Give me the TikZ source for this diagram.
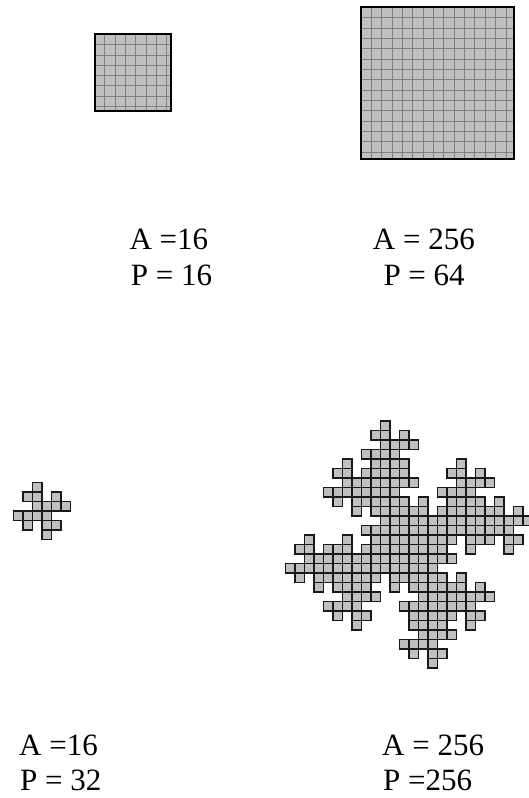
\documentclass[tikz,border=0pt]{standalone}
\usepackage{fontspec}
\setmainfont{Liberation Serif}
\definecolor{cellgray}{RGB}{192,192,192}
\definecolor{gridgray}{RGB}{128,128,128}
\begin{document}
\begin{tikzpicture}[x=1pt,y=-1pt,
  cellfill/.style={fill=cellgray,draw=none},
  cellline/.style={draw=black!90,line width=1.5pt},
  sqfill/.style={fill=cellgray,draw=none},
  sqborder/.style={draw=black,line width=2pt},
  gridln/.style={draw=gridgray,line width=0.8pt},
  lbl/.style={anchor=base west,inner sep=0pt,font=\fontsize{31}{37}\selectfont}]
\useasboundingbox (0,0) rectangle (528,798);
\def\shapelist{2/0,1/1,2/1,4/1,2/2,3/2,4/2,5/2,0/3,1/3,2/3,3/3,1/4,3/4,4/4,3/5}
% small square
\fill[sqfill] (94.5,34.3) rectangle (170.7,110.7);
\foreach \k in {1,...,7}{
  \draw[gridln] ({94.5+10.3*\k},34.3) -- ({94.5+10.3*\k},110.7);
  \draw[gridln] (94.5,{34.3+10.3*\k}) -- (170.7,{34.3+10.3*\k});
}
\draw[sqborder] (94.5,34.3) rectangle (170.7,110.7);
% big square
\fill[sqfill] (361,7.3) rectangle (513.7,158.7);
\foreach \k in {1,...,14}{
  \draw[gridln] ({361+10.35*\k},7.3) -- ({361+10.35*\k},158.7);
  \draw[gridln] (361,{7.3+10.35*\k}) -- (513.7,{7.3+10.35*\k});
}
\draw[sqborder] (361,7.3) rectangle (513.7,158.7);
% small fractal
\foreach \c/\d in \shapelist{
  \fill[cellfill] ({13.3+9.5*\c},{482.7+9.5*\d}) rectangle ++(9.5,9.5);
}
\foreach \c/\d in \shapelist{
  \draw[cellline] ({13.3+9.5*\c},{482.7+9.5*\d}) rectangle ++(9.5,9.5);
}
% big fractal
\foreach \a/\b in \shapelist{
  \foreach \c/\d in \shapelist{
    \fill[cellfill] ({285.3+9.5*(4*\a+\c)},{420.8+9.5*(4*\b+\d)}) rectangle ++(9.5,9.5);
  }
}
\foreach \a/\b in \shapelist{
  \foreach \c/\d in \shapelist{
    \draw[cellline] ({285.3+9.5*(4*\a+\c)},{420.8+9.5*(4*\b+\d)}) rectangle ++(9.5,9.5);
  }
}
% labels
\node[lbl] (a1) at (129.3,249.3) {A =16};
\node[lbl] (p1) at (130.7,285) {P = 16};
\node[lbl] (a2) at (372.7,249.3) {A = 256};
\node[lbl] (p2) at (383.3,285) {P = 64};
\node[lbl] (a3) at (19,755) {A =16};
\node[lbl] (p3) at (20,790) {P = 32};
\node[lbl] (a4) at (382,755) {A = 256};
\node[lbl] (p4) at (383,790) {P =256};
\end{tikzpicture}
\end{document}
